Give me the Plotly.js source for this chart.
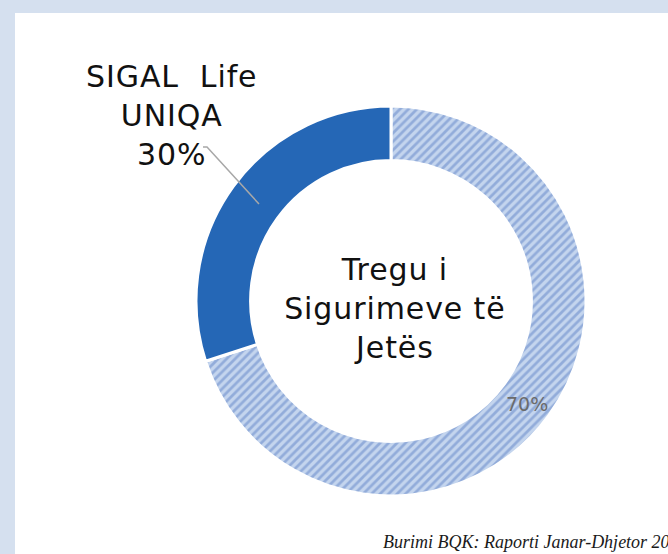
<!DOCTYPE html>
<html>
<head>
<meta charset="utf-8">
<script src="https://cdn.plot.ly/plotly-3.0.1.min.js"></script>
<style>
html,body{margin:0;padding:0;background:#d5e0ef;}
#chart{width:668px;height:554px;}
.wide-text{letter-spacing:0.9px;}
</style>
</head>
<body>
<div id="chart"></div>
<script>
// Data (ordered clockwise from 12 o'clock)
const sliceLabels = ["Të tjerët", "SIGAL Life UNIQA"];
const sliceValues = [70, 30];
const sliceColors = ["#bccfeb", "#2567b6"];
const labelLines = ["SIGAL&nbsp;&nbsp;Life", "UNIQA"];
const centerTitle = ["Tregu i", "Sigurimeve të", "Jetës"];
const sourceNote = "Burimi BQK: Raporti Janar-Dhjetor 2023";

const W = 668, H = 554;
const px = x => x / W;
const py = y => 1 - y / H;

const total = sliceValues.reduce((a, b) => a + b, 0);
const pct = v => Math.round(v / total * 100) + "%";

const trace = {
  type: "pie",
  labels: sliceLabels,
  values: sliceValues,
  sort: false,
  direction: "clockwise",
  rotation: 0,
  hole: 0.72,
  textinfo: "none",
  hoverinfo: "label+percent",
  domain: {x: [px(196), px(586)], y: [py(496), py(106)]},
  marker: {
    colors: sliceColors,
    line: {color: "#ffffff", width: 3},
    pattern: {
      shape: ["/", ""],
      fgcolor: ["#92acda", "#2567b6"],
      bgcolor: ["#c4d5ee", "#2567b6"],
      size: 6,
      solidity: 0.45
    }
  }
};

const bigFont = {family: "DejaVu Sans, sans-serif", size: 30, color: "#111111"};

const layout = {
  width: W, height: H,
  margin: {l: 0, r: 0, t: 0, b: 0},
  paper_bgcolor: "#d5e0ef",
  showlegend: false,
  shapes: [
    {type: "rect", xref: "paper", yref: "paper", x0: px(15), x1: 1.01, y0: -0.01, y1: py(13),
     fillcolor: "#ffffff", line: {width: 0}, layer: "below"},
    {type: "path", xref: "paper", yref: "paper",
     path: `M ${px(203)},${py(147)} L ${px(207)},${py(147)} L ${px(259)},${py(204)}`,
     line: {color: "#a8a8a8", width: 1.5}}
  ],
  annotations: [
    {xref: "paper", yref: "paper", x: px(172), y: py(115), xanchor: "center", yanchor: "middle",
     text: '<span class="wide-text">' + labelLines.join("<br>") + "<br>" + pct(sliceValues[1]) + "</span>",
     showarrow: false, align: "center", font: bigFont},
    {xref: "paper", yref: "paper", x: px(395), y: py(308), xanchor: "center", yanchor: "middle",
     text: centerTitle.join("<br>"), showarrow: false, align: "center", font: bigFont},
    {xref: "paper", yref: "paper", x: px(527), y: py(404), xanchor: "center", yanchor: "middle",
     text: pct(sliceValues[0]), showarrow: false,
     font: {family: "DejaVu Sans, sans-serif", size: 19, color: "#6b6b6b"}},
    {xref: "paper", yref: "paper", x: px(381), y: py(542), xanchor: "left", yanchor: "middle",
     text: "<i>" + sourceNote + "</i>", showarrow: false,
     font: {family: "Liberation Serif, serif", size: 18, color: "#1a1a1a"}}
  ]
};

Plotly.newPlot("chart", [trace], layout, {displayModeBar: false, staticPlot: true}).then(() => {
  document.querySelectorAll(".annotation-text").forEach((t, i) => {
    if (i < 2) t.style.letterSpacing = "0.9px";
  });
});
</script>
</body>
</html>
